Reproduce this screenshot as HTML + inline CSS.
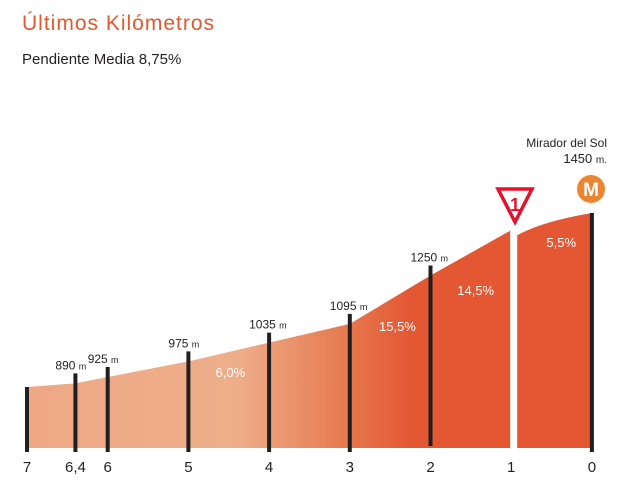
<!DOCTYPE html>
<html><head><meta charset="utf-8"><style>
body{margin:0;background:#fff;width:640px;height:491px;overflow:hidden;font-family:"Liberation Sans",sans-serif}
</style></head><body>
<svg width="640" height="491">
<defs>
<linearGradient id="g" gradientUnits="userSpaceOnUse" x1="27" y1="0" x2="592" y2="0">
<stop offset="0" stop-color="#EEA886"/>
<stop offset="0.37" stop-color="#EEAE8A"/>
<stop offset="0.56" stop-color="#E67A50"/>
<stop offset="0.68" stop-color="#E35733"/>
<stop offset="1" stop-color="#E35733"/>
</linearGradient>
</defs>
<text x="22" y="30" font-size="21" fill="#E5582E" letter-spacing="1">Últimos Kilómetros</text>
<text x="22" y="64" font-size="15" fill="#231F20">Pendiente Media 8,75%</text>
<g id="plot"></g>
</svg>
<script>
const kms=[7,6.4,6,5,4,3,2,1,0];
const kmLabels=["7","6,4","6","5","4","3","2","1","0"];
const elev=[870,890,925,975,1035,1095,1250,1395,1450];
const elevLabels=[null,"890","925","975","1035","1095","1250",null,null];
const gradKm=[4.48,2.41,1.44,0.38];
const gradLabels=["6,0%","15,5%","14,5%","5,5%"];
const X=k=>27+(7-k)*80.7;
// piecewise-linear elevation scale
const Y=e=>e<925?387-(e-870)*(10/55):377-(e-925)*(164/525);
const base=448;
const ns="http://www.w3.org/2000/svg";
const g=document.getElementById('plot');
function mk(t,a){const e=document.createElementNS(ns,t);for(const k in a)e.setAttribute(k,a[k]);g.appendChild(e);return e;}
let d=`M${X(7)},${base}`;
for(let i=0;i<kms.length-1;i++)d+=` L${X(kms[i])},${Y(elev[i])}`;
d+=` L${X(1)-1},${Y(elev[7])} L${X(1)-1},${base} Z`;
let a1=mk('path',{d:d,fill:'url(#g)'});


let d2=`M${X(1)+6},${base} L${X(1)+6},${Y(elev[7])+5} Q${X(0.6)},${Y(elev[8])+8} ${X(0)},${Y(elev[8])} L${X(0)},${base} Z`;
let a2=mk('path',{d:d2,fill:'#E35733'});


for(let i=0;i<kms.length;i++){
  const x=X(kms[i]);
  if(kms[i]!==1){
    const top=(i===0||i===8)?Y(elev[i]):Y(elev[i])-10;
    const bot=(i===6)?446:452;
    const b=mk('rect',{x:x-2,y:top,width:4,height:bot-top,fill:'#231F20'});
    
    
  }
  const t=mk('text',{x:x,y:472,'font-size':15,fill:'#231F20','text-anchor':'middle'});
  t.textContent=kmLabels[i];
  
  
  if(elevLabels[i]){
    const l=mk('text',{x:x-20,y:Y(elev[i])-14,'font-size':12,fill:'#231F20'});
    l.innerHTML=elevLabels[i]+' <tspan font-size="9">m</tspan>';
    
    
  }
}
const gradY=[377,331,295,247];
for(let i=0;i<gradKm.length;i++){
  const t=mk('text',{x:X(gradKm[i]),y:gradY[i],'font-size':13,fill:'#fff','text-anchor':'middle'});
  t.textContent=gradLabels[i];
  
  
}
const s1=mk('text',{x:607,y:147,'font-size':12,fill:'#231F20','text-anchor':'end'});s1.textContent='Mirador del Sol';


const s2=mk('text',{x:607,y:163,'font-size':13,fill:'#231F20','text-anchor':'end'});s2.innerHTML='1450 <tspan font-size="10">m.</tspan>';


const c=mk('circle',{cx:591,cy:189,r:14,fill:'#EC8430'});


const m=mk('text',{x:591,y:196,'font-size':19,'font-weight':'bold',fill:'#fff','text-anchor':'middle'});m.textContent='M';


const tri=mk('path',{d:'M498,189 L532,189 L515,222 Z',fill:'#fff',stroke:'#E3112B','stroke-width':3.5,'stroke-linejoin':'miter'});


const one=mk('text',{x:515,y:211,'font-size':18,'font-weight':'bold',fill:'#E3112B','text-anchor':'middle'});one.textContent='1';


</script>
</body></html>
